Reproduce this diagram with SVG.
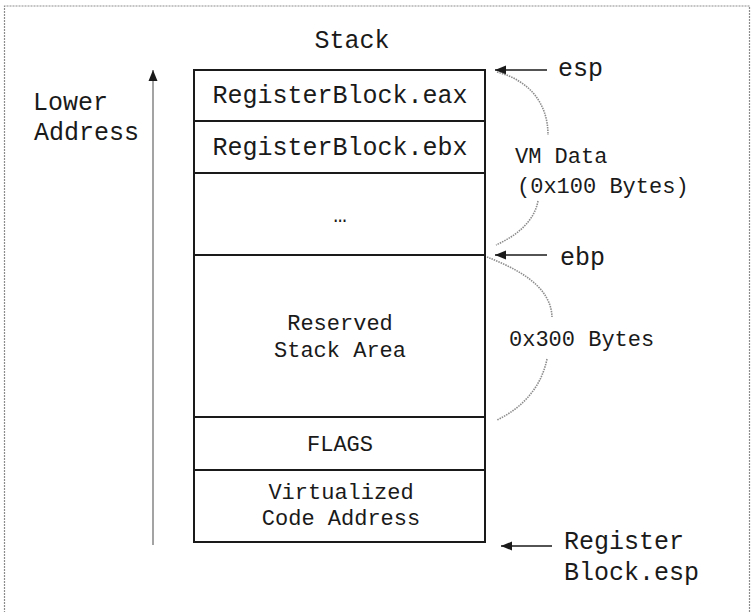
<svg xmlns="http://www.w3.org/2000/svg" width="752" height="612" viewBox="0 0 752 612">
  <style>
    .cell { fill: #ffffff; stroke: #1a1a1a; stroke-width: 2; }
    .t { font-family: "Liberation Mono", "Courier New", monospace; fill: #1a1a1a; }
    .big { font-size: 25px; }
    .mid { font-size: 22px; }
    .c { text-anchor: middle; }
    .ptr { stroke: #1a1a1a; stroke-width: 1.6; fill: none; }
    .span { stroke: #8c8c8c; stroke-width: 1.6; stroke-dasharray: 1.5 1; fill: none; }
  </style>
  <defs>
    <marker id="head" markerUnits="userSpaceOnUse" markerWidth="12" markerHeight="10" refX="11" refY="5" orient="auto">
      <path d="M0,0.5 L11,5 L0,9.5 z" fill="#1a1a1a"/>
    </marker>
  </defs>

  <rect width="752" height="612" fill="#ffffff"/>
  <!-- frame -->
  <path d="M4.5,625 V6 H749.5 V625" fill="none" stroke="#8c8c8c" stroke-width="1.2" stroke-dasharray="2 1"/>

  <!-- stack column -->
  <g id="stack-title"><text class="t big c" x="352" y="48">Stack</text></g>
  <g id="cell-eax">
    <rect class="cell" x="194" y="70" width="291" height="51"/>
    <text class="t big c" x="340" y="103">RegisterBlock.eax</text>
  </g>
  <g id="cell-ebx">
    <rect class="cell" x="194" y="121" width="291" height="52"/>
    <text class="t big c" x="340" y="155">RegisterBlock.ebx</text>
  </g>
  <g id="cell-more">
    <rect class="cell" x="194" y="173" width="291" height="82"/>
    <text class="t mid c" x="340" y="222">…</text>
  </g>
  <g id="cell-reserved">
    <rect class="cell" x="194" y="255" width="291" height="162"/>
    <text class="t mid c" x="340" y="330">Reserved</text>
    <text class="t mid c" x="340" y="357">Stack Area</text>
  </g>
  <g id="cell-flags">
    <rect class="cell" x="194" y="417" width="291" height="53"/>
    <text class="t mid c" x="340" y="451">FLAGS</text>
  </g>
  <g id="cell-code">
    <rect class="cell" x="194" y="470" width="291" height="72"/>
    <text class="t mid c" x="341" y="499">Virtualized</text>
    <text class="t mid c" x="341" y="525">Code Address</text>
  </g>

  <!-- side labels -->
  <g id="lower-address">
    <text class="t big" x="33" y="110">Lower</text>
    <text class="t big" x="34" y="140">Address</text>
  </g>
  <g id="label-esp"><text class="t big" x="558" y="76">esp</text></g>
  <g id="label-vmdata">
    <text class="t mid" x="515" y="163">VM Data</text>
    <text class="t mid" x="517" y="193">(0x100 Bytes)</text>
  </g>
  <g id="label-ebp"><text class="t big" x="560" y="265">ebp</text></g>
  <g id="label-reserved-size"><text class="t mid" x="509" y="346">0x300 Bytes</text></g>
  <g id="label-regesp">
    <text class="t big" x="564" y="549">Register</text>
    <text class="t big" x="564" y="580">Block.esp</text>
  </g>

  <!-- connectors -->
  <g id="connectors">
    <line x1="153" y1="545" x2="153" y2="70" stroke="#8c8c8c" stroke-width="1.6" marker-end="url(#head)"/>
    <line class="ptr" x1="547" y1="70" x2="495" y2="70" marker-end="url(#head)"/>
    <line class="ptr" x1="547" y1="255" x2="495" y2="255" marker-end="url(#head)"/>
    <line class="ptr" x1="552" y1="546" x2="501" y2="546" marker-end="url(#head)"/>
    <path class="span" d="M497,72 C528,80 548,102 548,135"/>
    <path class="span" d="M538,201 C534,222 516,236 496,245"/>
    <path class="span" d="M487,257 C515,268 551,285 552,317"/>
    <path class="span" d="M547,359 C541,388 522,408 497,420"/>
  </g>
</svg>
